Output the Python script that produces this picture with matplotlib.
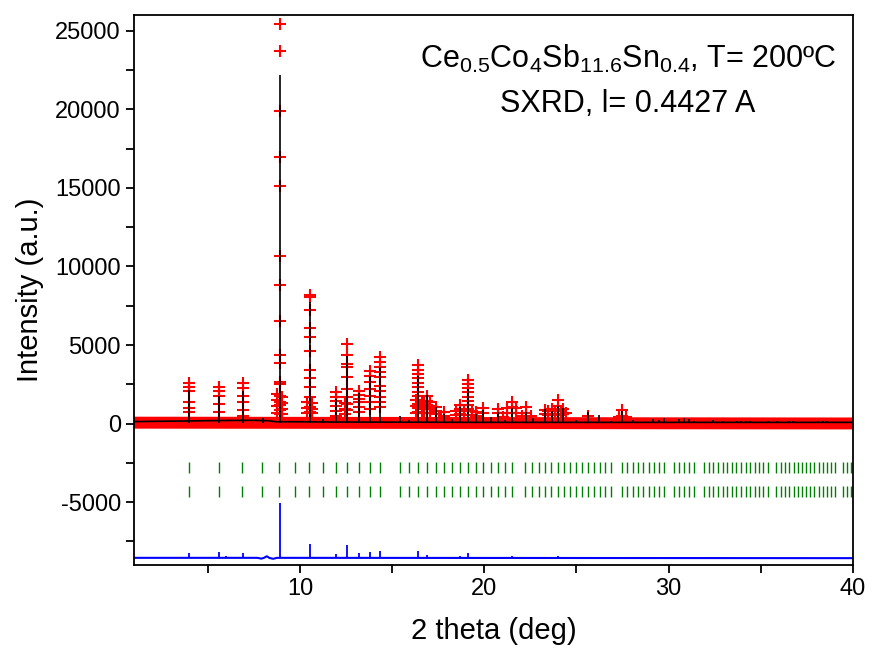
import matplotlib
matplotlib.use('Agg')
import matplotlib.pyplot as plt

plt.rcParams['font.family'] = ['Liberation Sans', 'DejaVu Sans']
plt.rcParams['mathtext.fontset'] = 'custom'
plt.rcParams['mathtext.rm'] = 'Liberation Sans'
plt.rcParams['mathtext.it'] = 'Liberation Sans:italic'
plt.rcParams['axes.unicode_minus'] = False

# reflection markers (2theta, deg), same list for both phases
refl_pos = [3.97, 5.61, 6.88, 7.94, 8.88, 9.73, 10.51, 11.24, 11.93, 12.57, 13.19, 13.78,
            14.34, 15.41, 15.92, 16.42, 16.90, 17.36, 17.82, 18.26, 18.69, 19.12, 19.53,
            19.94, 20.34, 20.73, 21.12, 21.49, 22.23, 22.59, 22.95, 23.30, 23.64, 23.98,
            24.32, 24.65, 24.98, 25.30, 25.62, 25.94, 26.25, 26.56, 26.86, 27.47, 27.76,
            28.06, 28.35, 28.63, 28.92, 29.20, 29.48, 29.76, 30.31, 30.58, 30.85, 31.12,
            31.38, 31.91, 32.17, 32.42, 32.68, 32.93, 33.18, 33.43, 33.68, 33.93, 34.17,
            34.42, 34.66, 34.90, 35.14, 35.38, 35.85, 36.08, 36.32, 36.55, 36.78, 37.01,
            37.24, 37.46, 37.69, 37.91, 38.13, 38.36, 38.58, 38.80, 39.02, 39.45, 39.67,
            39.88]

# calculated profile: background + peak maxima
calc_bkg_x = [1.0, 4.0, 6.0, 7.6, 8.3, 8.7, 9.5, 12.0, 20.0, 30.0, 40.0]
calc_bkg_y = [130, 170, 200, 210, 180, 120, 120, 100, 80, 80, 80]
calc_pk_x = [3.98, 5.63, 6.90, 7.98, 8.90, 10.52, 11.25, 11.94, 12.57, 13.19, 13.81, 14.36,
             15.43, 15.94, 16.42, 16.87, 17.36, 17.82, 18.27, 18.69, 19.13, 19.55, 19.95,
             20.35, 20.76, 21.10, 21.52, 22.26, 22.62, 23.30, 23.66, 23.98, 24.29, 24.95,
             25.60, 26.24, 26.86, 27.47, 28.05, 29.17, 29.50, 29.75, 30.56, 30.83, 31.10,
             31.39, 32.42, 32.93, 33.69, 33.92, 34.18, 34.41, 35.37, 35.86, 36.53, 36.77,
             38.12, 38.36, 38.61, 39.42, 39.84]
calc_pk_y = [2160, 1740, 2050, 350, 22200, 7760, 300, 1570, 4320, 1930, 3010, 3580,
             510, 250, 3050, 1800, 1080, 620, 300, 1080, 2210, 600, 870,
             400, 720, 250, 970, 720, 350, 930, 830, 1140, 1000, 250,
             720, 570, 190, 800, 235, 300, 250, 340, 300, 340, 300,
             190, 235, 190, 190, 190, 190, 190, 150, 150, 150, 190,
             150, 150, 150, 130, 130]

# observed: dense baseline points (they merge into a band)
obs_band_x = [1.0, 10.0, 20.0, 30.0, 40.0]
obs_band_y = [60, 50, 40, 20, 10]

# observed: points on the peak flanks (one column per 2theta)
obs_col_x = [3.98, 5.63, 6.90, 8.75, 8.90, 9.05, 10.40, 10.52, 10.65, 11.94, 12.45, 12.57,
             13.19, 13.81, 14.36, 16.30, 16.42, 16.60, 16.75, 16.87, 17.05, 17.36, 17.82,
             18.45, 18.69, 18.90, 19.13, 19.35, 19.55, 19.95, 20.76, 21.00, 21.25, 21.51,
             21.70, 22.05, 22.26, 22.55, 23.30, 23.48, 23.66, 23.82, 23.98, 24.15, 24.29,
             24.45, 25.60, 27.30, 27.46, 27.70]
obs_col_y = [
    [2560, 2310, 2050, 1350, 1000, 760],
    [2310, 2050, 1780, 1250, 720],
    [2560, 2270, 1780, 1350, 870, 510],
    [1900, 1500, 1100, 700],
    [25420, 23680, 19900, 16940, 15140, 10680, 8800, 6530, 4390, 3860, 2630, 2520,
     1780, 1400, 1190, 870, 600],
    [1700, 1300, 900, 600],
    [1400, 1000, 700],
    [8200, 8030, 7230, 6060, 5530, 4640, 3430, 2900, 2310, 1670, 1080, 720],
    [1300, 950, 650],
    [1990, 1720, 1420, 1140, 780, 510],
    [1300, 900, 600],
    [5070, 4370, 3800, 3580, 2940, 2210, 1670, 1250, 870],
    [2100, 1820, 1570, 1350, 1040, 720],
    [3330, 3050, 2630, 2210, 1780, 1350, 930],
    [4220, 3900, 3580, 3260, 2940, 2420, 2100, 1670, 1350, 1040],
    [1500, 1100, 700],
    [3730, 3420, 3160, 2880, 2590, 2310, 2040, 1780, 1510, 1250, 970, 720],
    [1400, 1150, 900, 650],
    [1300, 1000, 700],
    [1780, 1460, 1210, 930, 650],
    [1400, 1150, 900, 650],
    [1080, 830, 620],
    [720, 500],
    [800, 550],
    [1210, 900, 600],
    [800, 550],
    [2780, 2520, 2270, 1990, 1720, 1460, 1210, 930],
    [800, 550],
    [760, 500],
    [1000, 700],
    [930, 650],
    [450],
    [1000, 700],
    [1400, 1050, 700],
    [1000, 700],
    [500],
    [1040, 700],
    [500],
    [880, 600],
    [800, 550],
    [900, 600],
    [800, 550],
    [1510, 1100, 800],
    [800, 550],
    [900, 600],
    [650],
    [500],
    [450],
    [880, 500],
    [450],
]

# difference curve: baseline plus spikes
diff_x = [1.0, 7.7, 7.9, 8.05, 8.2, 8.35, 8.55, 8.75, 40.0]
diff_y = [-8540, -8540, -8590, -8540, -8440, -8550, -8600, -8540, -8560]
diff_pk_x = [3.98, 5.63, 5.97, 6.90, 8.90, 10.52, 11.94, 12.57, 13.19, 13.81, 14.36,
             16.41, 16.88, 17.36, 18.70, 19.12, 21.50, 24.00, 27.45]
diff_pk_y = [-8250, -8140, -8400, -8250, -5040, -7680, -8290, -7700, -8250, -8185, -8120,
             -8080, -8330, -8460, -8440, -8220, -8400, -8400, -8460]

fig = plt.figure(figsize=(8.72, 6.51), dpi=100)
ax = fig.add_axes([0.1537, 0.132, 0.8245, 0.845])

# observed
ax.plot(obs_band_x, obs_band_y, color='red', lw=8.6, solid_capstyle='butt')
xs = [x for x, col in zip(obs_col_x, obs_col_y) for _ in col]
ys = [y for col in obs_col_y for y in col]
ax.plot(xs, ys, '+', color='red', ms=8.5, mew=1.5, ls='none')

# calculated
ax.plot(calc_bkg_x, calc_bkg_y, color='black', lw=1.2)
ax.vlines(calc_pk_x, 60, calc_pk_y, color='black', lw=1.2)

# reflection markers, two phases
ax.vlines(refl_pos, -3160, -2460, color='green', lw=1.0)
ax.vlines(refl_pos, -4690, -3940, color='green', lw=1.0)

# difference
ax.plot(diff_x, diff_y, color='blue', lw=1.5)
ax.vlines(diff_pk_x, -8540, diff_pk_y, color='blue', lw=1.3)

ax.set_xlim(1, 40)
ax.set_ylim(-9000, 26000)
ax.set_xticks([10, 20, 30, 40])
ax.set_xticks([5, 15, 25, 35], minor=True)
ax.set_yticks(range(-5000, 25001, 5000))
ax.set_yticks(range(-7500, 25001, 5000), minor=True)
ax.tick_params(which='both', direction='out', length=6, width=1.3, labelsize=17)
for s in ax.spines.values():
    s.set_linewidth(1.3)

ax.set_xlabel('2 theta (deg)', fontsize=21, labelpad=12)
ax.set_ylabel('Intensity (a.u.)', fontsize=21, labelpad=8)

ax.text(0.687, 0.9036, r'Ce$_{0.5}$Co$_{4}$Sb$_{11.6}$Sn$_{0.4}$, T= 200ºC',
        transform=ax.transAxes, ha='center', va='baseline', fontsize=22)
ax.text(0.687, 0.8236, 'SXRD, l= 0.4427 A',
        transform=ax.transAxes, ha='center', va='baseline', fontsize=22)

fig.savefig('out.png', dpi=100)
